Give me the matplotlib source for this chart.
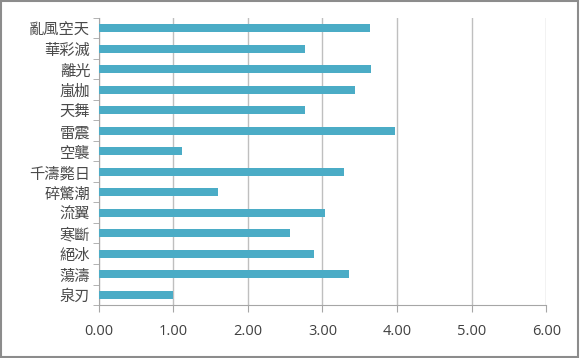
import matplotlib.pyplot as plt
import numpy as np
from matplotlib.patches import Rectangle

plt.rcParams['font.family'] = ['Noto Sans CJK TC', 'DejaVu Sans']

names = ['亂風空天', '華彩滅', '離光', '嵐枷', '天舞', '雷震', '空襲',
         '千濤斃日', '碎驚潮', '流翼', '寒斷', '絕冰', '蕩濤', '泉刃']
values = [3.64, 2.76, 3.65, 3.44, 2.77, 3.97, 1.12,
          3.29, 1.60, 3.03, 2.57, 2.89, 3.35, 1.00]
xticks = [0, 1, 2, 3, 4, 5, 6]

fig = plt.figure(figsize=(5.8, 3.58), dpi=100)
ax = fig.add_axes([0.170, 0.148, 0.772, 0.802])

pos = np.arange(len(names))[::-1]
ax.barh(pos, values, height=0.4, color='#4bacc6', zorder=3)

ax.set_xlim(0, 6)
ax.set_ylim(-0.5, len(names) - 0.5)
ax.set_xticks(xticks)
ax.set_xticklabels(['%.2f' % t for t in xticks], fontsize=10.5, color='#404040',
                   family=['Open Sans', 'DejaVu Sans'])
ax.set_yticks(pos)
ax.set_yticklabels(names, fontsize=11, color='#4a4a4a')
ax.set_yticks(np.arange(len(names) + 1) - 0.5, minor=True)
ax.tick_params(axis='y', which='major', length=0, pad=6)
ax.tick_params(axis='y', which='minor', length=4, color='#a6a6a6', direction='out')
ax.tick_params(axis='x', length=5, color='#a6a6a6', direction='out', pad=9)

ax.grid(axis='x', color='#bfbfbf', linewidth=1, zorder=0)
for side in ['top', 'right']:
    ax.spines[side].set_visible(False)
for side in ['left', 'bottom']:
    ax.spines[side].set_color('#a6a6a6')

fig.patches.append(Rectangle((0.002, 0.003), 0.995, 0.994, transform=fig.transFigure,
                             fill=False, edgecolor='#8c8c8c', linewidth=1.5))

fig.savefig('out.png', dpi=100)
